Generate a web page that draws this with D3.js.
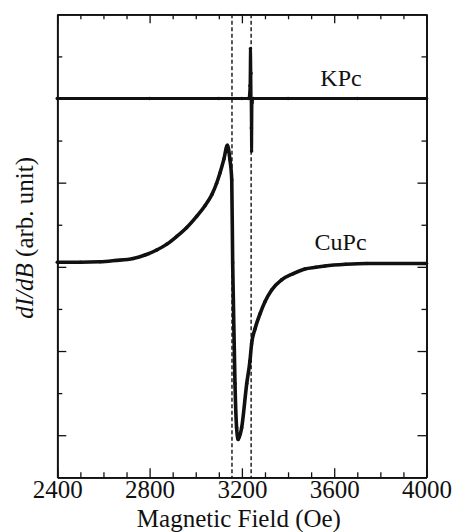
<!DOCTYPE html>
<html>
<head>
<meta charset="utf-8">
<script src="https://cdn.jsdelivr.net/npm/d3@7"></script>
<style>
  body { margin: 0; background: #fff; }
  text { font-family: "Liberation Serif", "Times New Roman", serif; fill: #111; }
</style>
</head>
<body>
<div id="esr"></div>
<script>
// DATA
const xTickLabels = [2400, 2800, 3200, 3600, 4000];
const markerFields = [3157, 3240];

const kpcField = [2400, 2800, 3100, 3200, 3230, 3235, 3237, 3239, 3240, 3241, 3242, 3244, 3250, 3400, 3700, 4000];
const kpcSignal = [8.0, 8.0, 8.0, 8.0, 8.0, 8.3, 9.18, 8.6, 8.0, 7.3, 6.75, 7.9, 8.0, 8.0, 8.0, 8.0];

const cupcField = [2400, 2500, 2585, 2650, 2729, 2780, 2831, 2875, 2917, 2960, 3004, 3040, 3070, 3090, 3105, 3122, 3137,
  3148, 3156, 3160, 3163, 3170, 3177, 3184, 3199, 3221, 3235, 3242, 3257, 3279, 3300, 3329, 3372, 3423, 3473, 3520, 3560, 3650, 3741, 4000];
const cupcSignal = [4.11, 4.11, 4.12, 4.15, 4.2, 4.28, 4.4, 4.54, 4.72, 4.93, 5.2, 5.45, 5.72, 5.98, 6.23, 6.56, 6.89,
  6.55, 6.07, 4.1, 3.21, 1.23, 0.18, -0.1, 0.18, 1.23, 1.77, 2.17, 2.53, 2.89, 3.17, 3.45, 3.69, 3.84, 3.95, 3.99, 4.02, 4.06, 4.08, 4.08];

const WIDTH = 369.2;
const HEIGHT = 463;
const MARGIN = { LEFT: 57.3, TOP: 14.3 };

const svg = d3
  .select("#esr")
  .append("svg")
  .attr("width", 454)
  .attr("height", 532);

const chart = svg
  .append("g")
  .attr("transform", `translate(${MARGIN.LEFT}, ${MARGIN.TOP})`);

// SCALES
const x = d3.scaleLinear().domain([2400, 4000]).range([0, WIDTH]);
const y = d3.scaleLinear().domain([-1, 10]).range([HEIGHT, 0]);

const xMinor = d3.range(2500, 4000, 100).filter((d) => !xTickLabels.includes(d));
const yMajor = [0, 2, 4, 6, 8];
const yMinor = [1, 3, 5, 7, 9];

// AXES (ticks pointing inwards on all four sides)
function frameAxis(axis, tr) {
  const g = chart.append("g").attr("transform", tr).call(axis);
  g.select(".domain").attr("stroke-width", 1.7).attr("stroke", "#111");
  g.selectAll(".tick line").attr("stroke-width", 1.3).attr("stroke", "#111");
  return g;
}

const xBottom = frameAxis(
  d3.axisBottom(x).tickValues(xTickLabels).tickSize(-9).tickSizeOuter(0).tickPadding(3).tickFormat(d3.format("d")),
  `translate(0, ${HEIGHT})`
);
xBottom.selectAll(".tick text").attr("font-size", "25px").attr("dy", "0.71em");
frameAxis(d3.axisBottom(x).tickValues(xMinor).tickSize(-5).tickSizeOuter(0).tickFormat(""), `translate(0, ${HEIGHT})`);
frameAxis(d3.axisTop(x).tickValues(xTickLabels).tickSize(-9).tickSizeOuter(0).tickFormat(""), "translate(0, 0)");
frameAxis(d3.axisTop(x).tickValues(xMinor).tickSize(-5).tickSizeOuter(0).tickFormat(""), "translate(0, 0)");

frameAxis(d3.axisLeft(y).tickValues(yMajor).tickSize(-9).tickSizeOuter(0).tickFormat(""), "translate(0, 0)");
frameAxis(d3.axisLeft(y).tickValues(yMinor).tickSize(-5).tickSizeOuter(0).tickFormat(""), "translate(0, 0)");
frameAxis(d3.axisRight(y).tickValues(yMajor).tickSize(-9).tickSizeOuter(0).tickFormat(""), `translate(${WIDTH}, 0)`);
frameAxis(d3.axisRight(y).tickValues(yMinor).tickSize(-5).tickSizeOuter(0).tickFormat(""), `translate(${WIDTH}, 0)`);

// DASHED MARKERS
chart
  .append("g")
  .selectAll("line")
  .data(markerFields)
  .join("line")
  .attr("x1", (d) => x(d))
  .attr("x2", (d) => x(d))
  .attr("y1", 0)
  .attr("y2", HEIGHT)
  .attr("stroke", "#111")
  .attr("stroke-width", 1.4)
  .attr("stroke-dasharray", "4,2.5");

// SPECTRA
const line = d3
  .line()
  .curve(d3.curveMonotoneX)
  .x((d) => x(d[0]))
  .y((d) => y(d[1]));

const series = [
  { pts: d3.zip(kpcField, kpcSignal), w: 3 },
  { pts: d3.zip(cupcField, cupcSignal), w: 3.6 }
];

series.forEach((s) => {
  chart
    .append("path")
    .datum(s.pts)
    .attr("fill", "none")
    .attr("stroke", "#111")
    .attr("stroke-width", s.w)
    .attr("stroke-linejoin", "round")
    .attr("d", line);
  chart
    .append("g")
    .selectAll("circle")
    .data(s.pts)
    .join("circle")
    .attr("cx", (d) => x(d[0]))
    .attr("cy", (d) => y(d[1]))
    .attr("r", 1.8)
    .attr("fill", "#111");
});

// LABELS
chart
  .append("text")
  .attr("x", x(3540))
  .attr("y", y(8.3))
  .attr("font-size", "24px")
  .text("KPc");

chart
  .append("text")
  .attr("x", x(3515))
  .attr("y", y(4.4))
  .attr("font-size", "24px")
  .text("CuPc");

chart
  .append("text")
  .attr("x", WIDTH / 2 - 3)
  .attr("y", HEIGHT + 50)
  .attr("font-size", "25px")
  .attr("text-anchor", "middle")
  .text("Magnetic Field (Oe)");

const yLabel = chart
  .append("text")
  .attr("transform", `translate(-24, ${HEIGHT / 2 - 8}) rotate(-90)`)
  .attr("font-size", "25px")
  .attr("text-anchor", "middle");
yLabel.append("tspan").attr("font-style", "italic").text("dI/dB");
yLabel.append("tspan").text(" (arb. unit)");
</script>
</body>
</html>
